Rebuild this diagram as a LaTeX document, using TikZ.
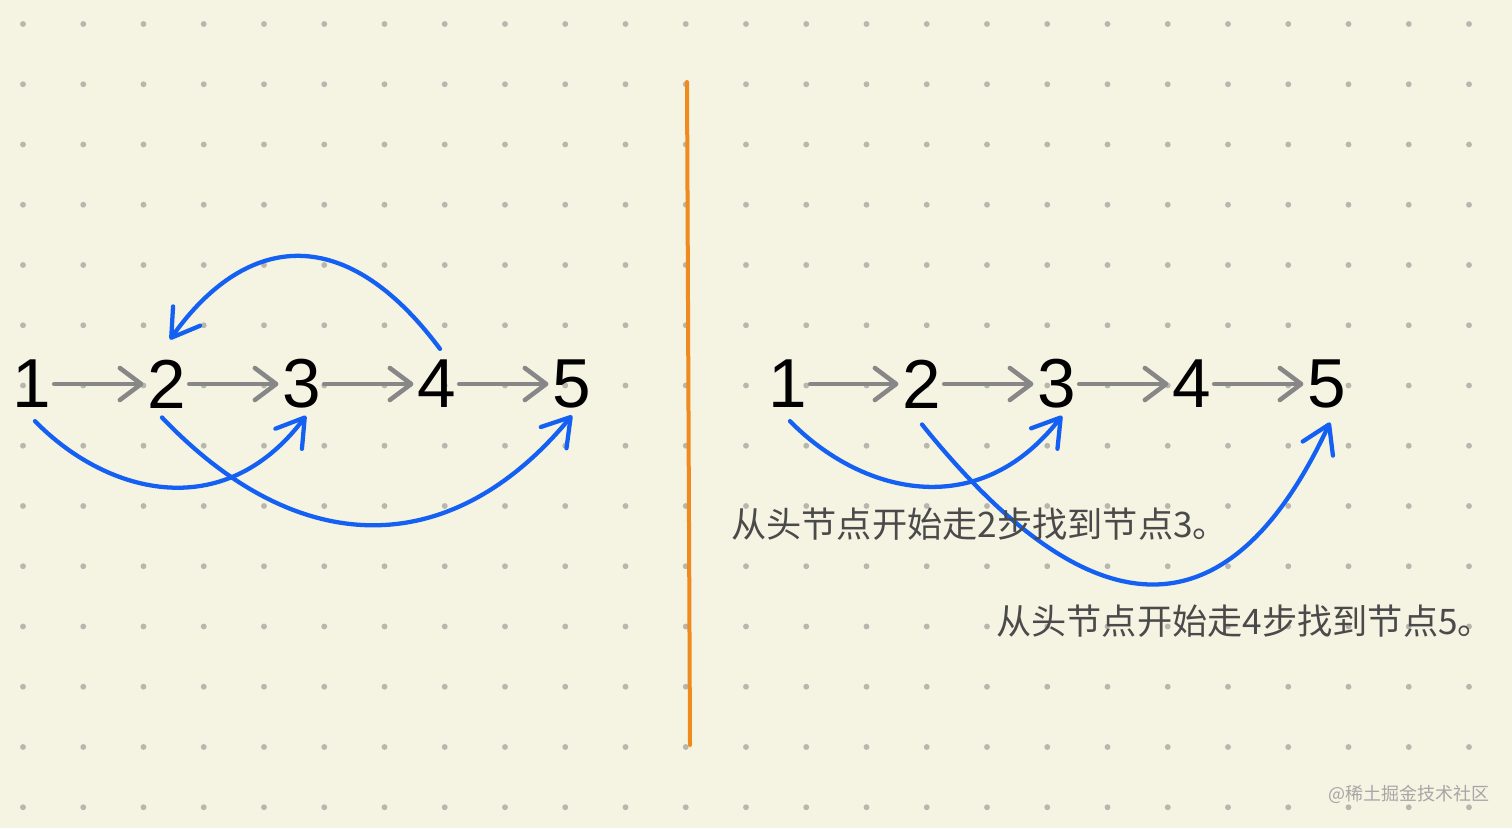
\documentclass[tikz,border=0pt]{standalone}
\usepackage{fontspec}
\setmainfont{Liberation Sans}
\newfontfamily\cjkfont{Noto Sans CJK SC}
\usetikzlibrary{arrows.meta,calc}
\definecolor{paper}{HTML}{F5F3E2}
\definecolor{dotgrey}{HTML}{B8B7AE}
\definecolor{stepgrey}{HTML}{878787}
\definecolor{jumpblue}{HTML}{1360F2}
\definecolor{splitorange}{HTML}{EE8A1E}
\definecolor{notegrey}{HTML}{4A4A4A}
\definecolor{markgrey}{HTML}{A6A6A6}
\tikzset{
  num/.style={inner sep=0pt, font=\fontsize{52}{52}\selectfont},
  nextarrow/.style={stepgrey, line width=3.4pt, line cap=round,
    -{Straight Barb[length=16pt,width=24pt,round]}, shorten >=3pt, shorten <=2pt},
  jumparrow/.style={jumpblue, line width=3.2pt, line cap=round,
    -{Straight Barb[length=20pt,width=25pt,round]}},
  note/.style={anchor=west, inner sep=0pt, text=notegrey, font=\cjkfont\fontsize{26.4}{26.4}\selectfont},
}

\begin{document}
\begin{tikzpicture}[x=0.75pt, y=-0.75pt]
            % paper
            \fill[paper] (0,0) rectangle (1512,828);
            \foreach \i in {0,...,24}
              \foreach \j in {0,...,13}
                \fill[dotgrey] (23+60.25*\i, 24+60.25*\j) circle (2.2pt);
            \draw[splitorange, line width=3pt, line cap=round] (687,82) -- (690,745);

            % left list
            \node[num] (a1) at (32,384) {1};
            \node[num] (a2) at (167,384) {2};
            \node[num] (a3) at (302,384) {3};
            \node[num] (a4) at (437,384) {4};
            \node[num] (a5) at (572,384) {5};

            % right list
            \node[num] (b1) at (788,384) {1};
            \node[num] (b2) at (922,384) {2};
            \node[num] (b3) at (1057,384) {3};
            \node[num] (b4) at (1192,384) {4};
            \node[num] (b5) at (1327,384) {5};

            % next pointers
            \draw[nextarrow] (a1.east) -- (a2.west);
            \draw[nextarrow] (a2.east) -- (a3.west);
            \draw[nextarrow] (a3.east) -- (a4.west);
            \draw[nextarrow] (a4.east) -- (a5.west);
            \draw[nextarrow] (b1.east) -- (b2.west);
            \draw[nextarrow] (b2.east) -- (b3.west);
            \draw[nextarrow] (b3.east) -- (b4.west);
            \draw[nextarrow] (b4.east) -- (b5.west);

            % jumps
            \draw[jumparrow] ($(a4.north)+(3,-11)$) .. controls (341,216) and (242,238) .. ($(a2.north)+(3,-20)$);
            \draw[jumparrow] ($(a1.south)+(3,13)$) .. controls (104,492) and (222,527) .. ($(a3.south)+(4,7)$);
            \draw[jumparrow] ($(a2.south)+(-5,9)$) .. controls (302,564) and (454,558) .. ($(a5.south)+(0,7)$);
            \draw[jumparrow] ($(b1.south)+(2,13)$) .. controls (859,492) and (977,525) .. ($(b3.south)+(5,7)$);
            \draw[jumparrow] ($(b2.south)+(0,16)$) .. controls (1089,632) and (1227,643) .. ($(b5.south)+(3,14)$);

            % notes
            \node[note] (n1) at (731,524) {从头节点开始走2步找到节点3。};
            \node[note] (n2) at (996,621) {从头节点开始走4步找到节点5。};
            \node[anchor=west, inner sep=0pt, text=markgrey, font=\cjkfont\fontsize{13.5}{13.5}\selectfont] (wm) at (1328,794) {@稀土掘金技术社区};
\end{tikzpicture}
\end{document}
